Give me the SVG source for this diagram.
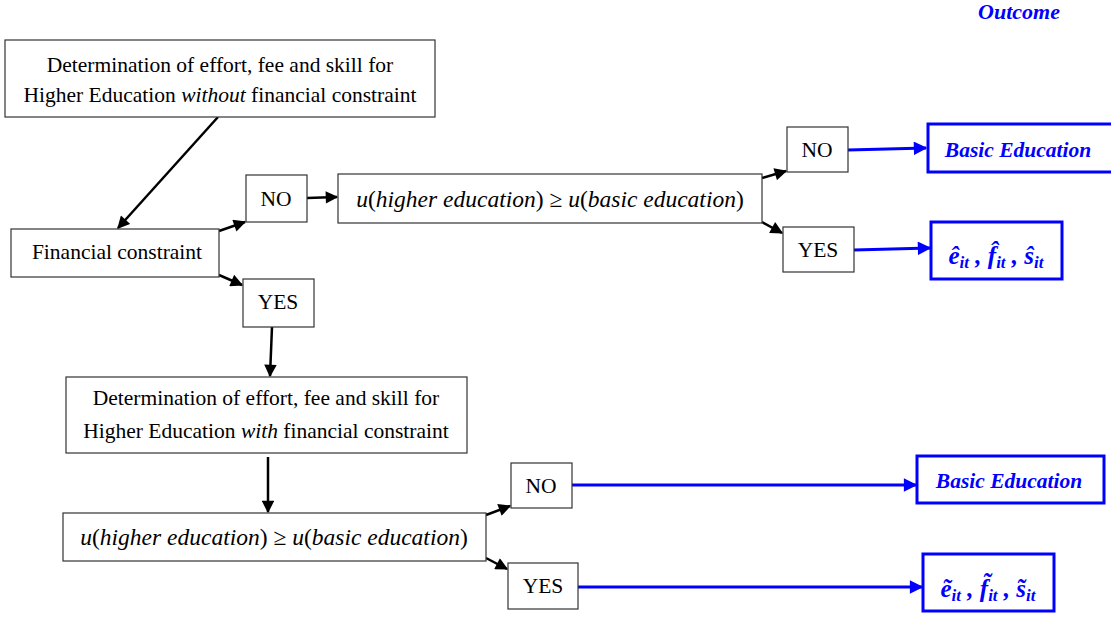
<svg xmlns="http://www.w3.org/2000/svg" width="1111" height="619" viewBox="0 0 1111 619">
<defs>
<marker id="ah" viewBox="0 0 10 10" refX="9" refY="5" markerWidth="5.5" markerHeight="5" orient="auto" markerUnits="strokeWidth">
<path d="M0,0 L10,5 L0,10 z" fill="#000"/>
</marker>
<marker id="ahb" viewBox="0 0 10 10" refX="9" refY="5" markerWidth="5" markerHeight="4.5" orient="auto" markerUnits="strokeWidth">
<path d="M0,0 L10,5 L0,10 z" fill="#0000ff"/>
</marker>
<style>
.box{fill:#fff;stroke:#333;stroke-width:1.2}
.bbox{fill:#fff;stroke:#0000ff;stroke-width:3}
.t{font-family:"Liberation Serif","Times New Roman",serif;font-size:21.5px;fill:#000;text-anchor:middle}
.m{font-family:"Liberation Serif","Times New Roman",serif;font-size:23.5px;fill:#000;text-anchor:middle}
.b{font-family:"Liberation Serif","Times New Roman",serif;font-size:21.5px;font-weight:bold;font-style:italic;fill:#0000ff;text-anchor:middle}
.v{font-family:"Liberation Serif","Times New Roman",serif;font-size:25px;font-weight:bold;font-style:italic;fill:#0000ff;text-anchor:middle}
.s{font-size:17px}
.c{stroke:#000;stroke-width:2.5;fill:none;marker-end:url(#ah)}
.cb{stroke:#0000ff;stroke-width:3;fill:none;marker-end:url(#ahb)}
</style>
</defs>
<rect width="1111" height="619" fill="#fff"/>
<text class="b" x="1019" y="19" style="font-size:22px">Outcome</text>
<g id="connectors">
<line class="c" x1="218" y1="117" x2="118" y2="228"/>
<line class="c" x1="219" y1="231" x2="245" y2="222"/>
<line class="c" x1="219" y1="275" x2="242" y2="285"/>
<line class="c" x1="307" y1="198" x2="337" y2="197"/>
<line class="c" x1="272" y1="327" x2="270" y2="376"/>
<line class="c" x1="762" y1="178" x2="786" y2="171"/>
<line class="c" x1="762" y1="222" x2="782" y2="233"/>
<line class="c" x1="268" y1="457" x2="268" y2="512"/>
<line class="c" x1="486" y1="515" x2="510" y2="506"/>
<line class="c" x1="486" y1="558" x2="507" y2="569"/>
<line class="cb" x1="848" y1="150" x2="926" y2="148"/>
<line class="cb" x1="854" y1="250" x2="930" y2="248"/>
<line class="cb" x1="572" y1="485" x2="916" y2="485"/>
<line class="cb" x1="578" y1="587" x2="922" y2="587"/>
</g>
<g id="det-without">
<rect class="box" x="5" y="40" width="430" height="77"/>
<text class="t" x="220" y="72">Determination of effort, fee and skill for</text>
<text class="t" x="220" y="102">Higher Education <tspan font-style="italic">without</tspan> financial constraint</text>
</g>
<g id="fin-constraint">
<rect class="box" x="11" y="229" width="208" height="48"/>
<text class="t" x="117" y="259">Financial constraint</text>
</g>
<g id="no1">
<rect class="box" x="246" y="175" width="61" height="47"/>
<text class="t" x="276" y="206">NO</text>
</g>
<g id="yes1">
<rect class="box" x="243" y="279" width="71" height="48"/>
<text class="t" x="278" y="309">YES</text>
</g>
<g id="util1">
<rect class="box" x="338" y="174" width="424" height="49"/>
<text class="m" x="550" y="207"><tspan font-style="italic">u</tspan>(<tspan font-style="italic">higher education</tspan>) ≥ <tspan font-style="italic">u</tspan>(<tspan font-style="italic">basic education</tspan>)</text>
</g>
<g id="no2">
<rect class="box" x="787" y="127" width="61" height="45"/>
<text class="t" x="817" y="157">NO</text>
</g>
<g id="yes2">
<rect class="box" x="783" y="227" width="71" height="45"/>
<text class="t" x="818" y="257">YES</text>
</g>
<g id="out-basic1">
<rect class="bbox" x="928" y="124" width="186" height="48"/>
<text class="b" x="1018" y="157">Basic Education</text>
</g>
<g id="out-hat">
<rect class="bbox" x="931" y="222" width="131" height="57"/>
<text class="v" x="996" y="264">ê<tspan class="s" dy="4">it</tspan><tspan dy="-4"> , f̂</tspan><tspan class="s" dy="4">it</tspan><tspan dy="-4"> , ŝ</tspan><tspan class="s" dy="4">it</tspan></text>
</g>
<g id="det-with">
<rect class="box" x="66" y="377" width="401" height="76"/>
<text class="t" x="266" y="405">Determination of effort, fee and skill for</text>
<text class="t" x="266" y="438">Higher Education <tspan font-style="italic">with</tspan> financial constraint</text>
</g>
<g id="util2">
<rect class="box" x="63" y="513" width="423" height="48"/>
<text class="m" x="274" y="545"><tspan font-style="italic">u</tspan>(<tspan font-style="italic">higher education</tspan>) ≥ <tspan font-style="italic">u</tspan>(<tspan font-style="italic">basic education</tspan>)</text>
</g>
<g id="no3">
<rect class="box" x="511" y="463" width="61" height="45"/>
<text class="t" x="541" y="493">NO</text>
</g>
<g id="yes3">
<rect class="box" x="508" y="563" width="70" height="46"/>
<text class="t" x="543" y="593">YES</text>
</g>
<g id="out-basic2">
<rect class="bbox" x="917" y="456" width="187" height="47"/>
<text class="b" x="1009" y="488">Basic Education</text>
</g>
<g id="out-tilde">
<rect class="bbox" x="923" y="554" width="131" height="57"/>
<text class="v" x="988" y="597">ẽ<tspan class="s" dy="4">it</tspan><tspan dy="-4"> , f̃</tspan><tspan class="s" dy="4">it</tspan><tspan dy="-4"> , s̃</tspan><tspan class="s" dy="4">it</tspan></text>
</g>
</svg>
